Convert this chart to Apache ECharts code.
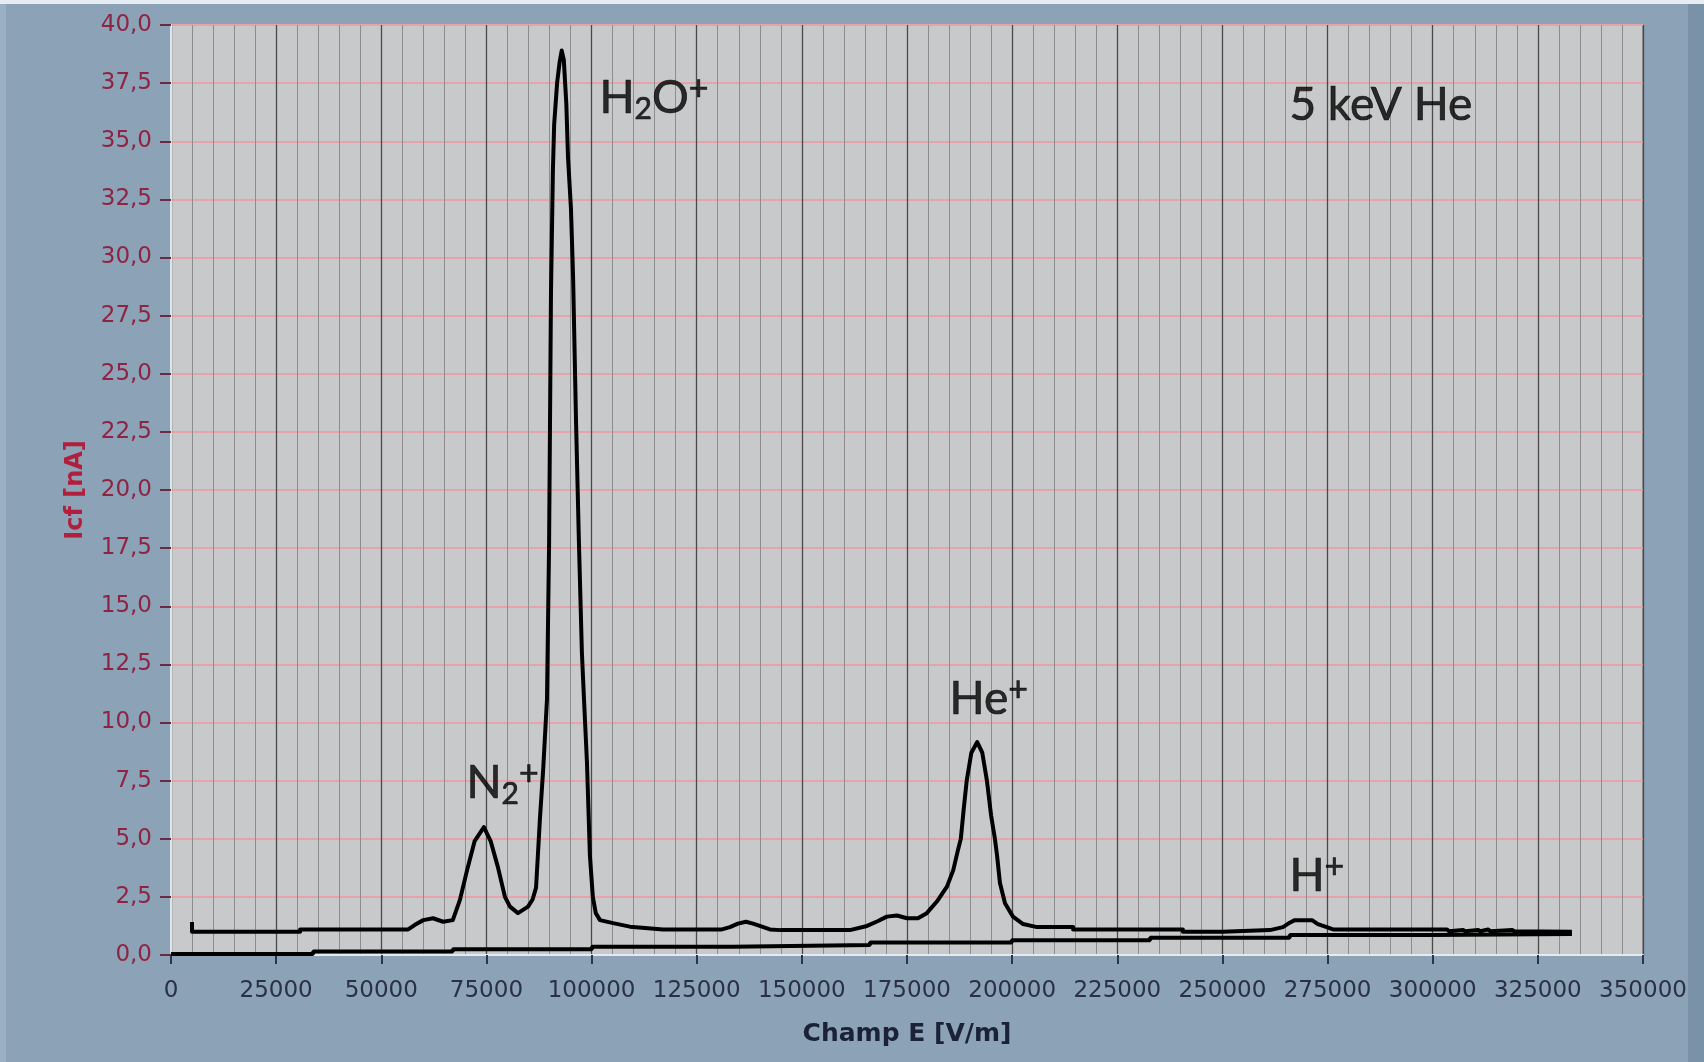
<!DOCTYPE html>
<html>
<head>
<meta charset="utf-8">
<script src="https://cdn.jsdelivr.net/npm/echarts@6/dist/echarts.min.js"></script>
<style>
  html, body { margin: 0; padding: 0; background: #8ca2b6; }
  #chart { width: 1704px; height: 1062px; }
</style>
</head>
<body>
<div id="chart"></div>
<script>
// ---- Data ----
// Axis ranges / ticks
const xMin = 0, xMax = 350000, xStep = 25000;
const yMin = 0, yMax = 40, yStep = 2.5;

// Measured current signal: [field E (V/m), Icf (nA)]
const signalCurve = [
  [5000, 1.42], [5000, 1.0], [30700, 1.0], [30700, 1.1], [56400, 1.1], [58000, 1.3],
  [60000, 1.5], [62300, 1.58], [64700, 1.43], [67000, 1.5], [68700, 2.37], [70400, 3.65],
  [72200, 4.9], [74400, 5.5], [76000, 4.9], [77700, 3.8], [79400, 2.5], [80600, 2.08],
  [82500, 1.8], [84900, 2.08], [86000, 2.4], [86800, 2.9], [87300, 4.5], [87700, 5.8],
  [88500, 8.0], [89400, 11.0], [89900, 17.7], [90350, 28.5], [90800, 33.7], [91100, 35.7],
  [91800, 37.5], [92400, 38.4], [92900, 38.9], [93400, 38.5], [94000, 36.6], [94400, 34.3],
  [95100, 32.1], [95600, 29.2], [96300, 23.0], [97000, 17.7], [97700, 13.0], [98200, 11.0],
  [98900, 8.3], [99600, 4.3], [100300, 2.5], [101000, 1.8], [102000, 1.5], [105100, 1.37],
  [109100, 1.22], [117000, 1.1], [131000, 1.1], [132900, 1.2], [134800, 1.35], [136700, 1.43],
  [138400, 1.35], [140000, 1.25], [142400, 1.1], [145000, 1.07], [161400, 1.07], [165500, 1.25],
  [168000, 1.45], [170200, 1.65], [172600, 1.7], [175000, 1.58], [177600, 1.58], [179700, 1.8],
  [182100, 2.3], [184500, 2.94], [186000, 3.65], [187100, 4.5], [187800, 5.0], [188500, 6.3],
  [189200, 7.5], [190300, 8.7], [191700, 9.16], [192900, 8.7], [194000, 7.5], [195000, 6.0],
  [195900, 5.0], [196400, 4.3], [197100, 3.1], [198300, 2.23], [200200, 1.65], [202600, 1.33],
  [205900, 1.2], [214500, 1.2], [214500, 1.1], [240600, 1.1], [240600, 1.0], [250100, 1.0],
  [250100, 1.07], [261300, 1.07], [264400, 1.2], [266000, 1.39], [267200, 1.5], [271300, 1.5],
  [272700, 1.33], [274800, 1.2], [276300, 1.1], [299800, 1.1], [300200, 1.02], [303400, 1.1],
  [303900, 1.02], [307200, 1.08], [307700, 1.02], [310800, 1.08], [311300, 1.02], [313200, 1.1],
  [313700, 1.02], [318900, 1.08], [319400, 1.02], [333100, 1.0]
];

// Lower reference trace (stepped): [field E (V/m), Icf (nA)]
const baseCurve = [
  [0, 0.04], [33800, 0.15], [67000, 0.25], [100100, 0.36], [133400, 0.43], [166200, 0.54],
  [199900, 0.63], [232800, 0.74], [266000, 0.86], [299800, 0.9], [333100, 0.9]
];

// Annotations: anchor position (data coords) and rich text
const annX = [101760, 265800, 185000, 70140, 265800];
const annY = [36.84, 36.55, 11.01, 7.38, 3.38];
const annText = [
  '{m|H}{sub|2}{m|O}{sup|+}',
  '{m|5 keV He}',
  '{m|He}{sup|+}',
  '{m|N}{sub|2}{sup|+}',
  '{m|H}{sup|+}'
];

// ---- Chart ----
const chart = echarts.init(document.getElementById('chart'), null, { renderer: 'canvas' });

const tickFont = 'DejaVu Sans';
const annFont = 'Lato';
const annStroke = { color: '#000', textBorderColor: '#000', textBorderWidth: 0.7 };

const option = {
  backgroundColor: '#8ca2b6',
  animation: false,
  graphic: [
    { type: 'rect', shape: { x: 0, y: 0, width: 1704, height: 4 }, style: { fill: '#e6ecf1' }, silent: true },
    { type: 'rect', shape: { x: 1688, y: 4, width: 16, height: 1058 }, style: { fill: '#7a92a8' }, silent: true },
    { type: 'rect', shape: { x: 0, y: 4, width: 6, height: 1058 }, style: { fill: '#9bb0c2' }, silent: true }
  ],
  grid: {
    left: 171, top: 25, width: 1472, height: 930,
    show: true, backgroundColor: '#c8c9ca', borderColor: '#5a5a5a', borderWidth: 1,
    containLabel: false
  },
  xAxis: [
    {
      type: 'value', min: xMin, max: xMax, interval: xStep, position: 'bottom', offset: 6,
      axisLine: { show: false },
      axisTick: { show: true, length: 9, lineStyle: { color: '#2b3350', width: 2 } },
      axisLabel: { fontFamily: tickFont, fontSize: 23, color: '#2a3046', margin: 19,
        formatter: v => String(v) },
      splitLine: { show: true, lineStyle: { color: '#4a4a4a', width: 1.3 } },
      minorTick: { show: false, splitNumber: 5 },
      minorSplitLine: { show: true, lineStyle: { color: '#8d8d8d', width: 1 } },
      name: 'Champ E [V/m]', nameLocation: 'middle', nameGap: 61,
      nameTextStyle: { fontFamily: tickFont, fontWeight: 'bold', fontSize: 25, color: '#1b2238' }
    },
    {
      type: 'value', min: xMin, max: xMax, position: 'bottom', offset: 0,
      axisLine: { show: true, lineStyle: { color: '#e4eaee', width: 2 } },
      axisTick: { show: false }, axisLabel: { show: false }, splitLine: { show: false }
    }
  ],
  yAxis: [
    {
      type: 'value', min: yMin, max: yMax, interval: yStep, position: 'left', offset: 4,
      axisLine: { show: false },
      axisTick: { show: true, length: 11, lineStyle: { color: '#6a2a40', width: 2 } },
      axisLabel: {
        fontFamily: tickFont, fontSize: 23, color: '#8e2443', margin: 15,
        formatter: v => v.toFixed(1).replace('.', ',')
      },
      splitLine: { show: true, lineStyle: { color: '#e8a2aa', width: 2 } },
      name: 'Icf [nA]', nameLocation: 'middle', nameGap: 79, nameRotate: 90,
      nameTextStyle: { fontFamily: tickFont, fontWeight: 'bold', fontSize: 24, color: '#b01f3b' }
    },
    {
      type: 'value', min: yMin, max: yMax, position: 'right', offset: 0,
      axisLine: { show: true, lineStyle: { color: '#dde4ea', width: 2 } },
      axisTick: { show: false }, axisLabel: { show: false }, splitLine: { show: false }
    }
  ],
  series: [
    {
      name: 'base', type: 'line', data: baseCurve, step: 'end',
      showSymbol: false, symbol: 'none',
      lineStyle: { color: '#000', width: 4 }, z: 3, silent: true
    },
    {
      name: 'signal', type: 'line', data: signalCurve,
      showSymbol: false, symbol: 'none',
      lineStyle: { color: '#000', width: 4, join: 'round' }, z: 4, silent: true
    },
    {
      name: 'labels', type: 'scatter', silent: true, z: 5,
      symbolSize: 1, itemStyle: { color: 'rgba(0,0,0,0)' },
      data: annX.map((x, i) => ({ value: [x, annY[i]], label: { formatter: annText[i] } })),
      label: {
        show: true, position: 'right', distance: 0,
        rich: {
          m: Object.assign({ fontFamily: annFont, fontSize: 46, lineHeight: 52 }, annStroke),
          sub: Object.assign({ fontFamily: annFont, fontSize: 30, lineHeight: 34, verticalAlign: 'bottom' }, annStroke),
          sup: Object.assign({ fontFamily: annFont, fontSize: 34, lineHeight: 34, verticalAlign: 'top' }, annStroke)
        }
      }
    }
  ]
};
chart.setOption(option);
</script>
</body>
</html>
